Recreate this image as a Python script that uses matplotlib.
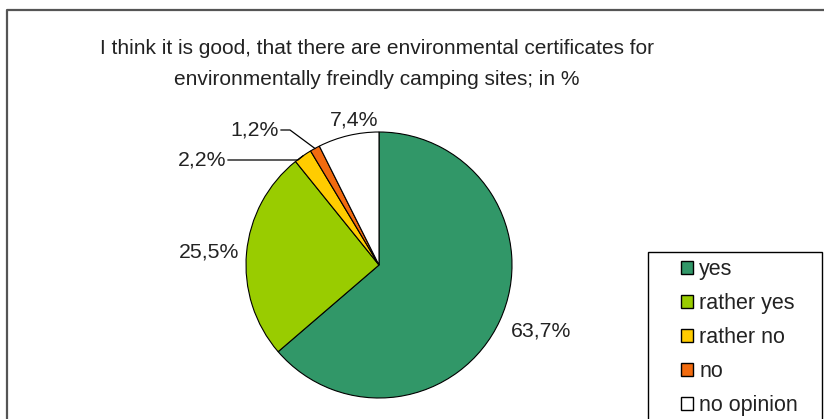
import numpy as np
import matplotlib
matplotlib.use("Agg")
import matplotlib.pyplot as plt
from matplotlib.patches import Patch, Rectangle
from matplotlib.lines import Line2D

# survey answers, in %
categories = ["yes", "rather yes", "rather no", "no", "no opinion"]
shares = [63.7, 25.5, 2.2, 1.2, 7.4]
colors = ["#319768", "#99cc00", "#ffcc00", "#f26b0f", "#ffffff"]
title = ("I think it is good, that there are environmental certificates for\n"
         "environmentally freindly camping sites; in %")

W, H = 824, 419
plt.rcParams["font.family"] = ["Liberation Sans", "DejaVu Sans"]

fig = plt.figure(figsize=(W / 100, H / 100), dpi=100)
fig.patch.set_facecolor("white")

# pie centre and radius in pixels
cx, cy, r = 379, 265, 133


def px(x, y):
    # pixel position -> pie data coordinates
    return (x - cx) / r, (cy - y) / r


ax = fig.add_axes([(cx - r) / W, (H - cy - r) / H, 2 * r / W, 2 * r / H])
wedges, _ = ax.pie(shares, colors=colors, startangle=90, counterclock=False,
                   radius=1, wedgeprops=dict(edgecolor="black", linewidth=0.8))
ax.set_xlim(-1, 1)
ax.set_ylim(-1, 1)
ax.set_aspect("auto")
ax.axis("off")


def fmt(v):
    return f"{v:.1f}%".replace(".", ",")


# label centres (pixels) and optional leader elbow
label_pos = [(541, 331), (209, 252), (202, 160), (255, 130), (354, 120)]
elbows = [None, None, (298, 160), (290, 130), None]
text_ends = [None, None, (228, 160), (281, 130), None]

for w, v, (lx, ly), elb, te in zip(wedges, shares, label_pos, elbows, text_ends):
    x, y = px(lx, ly)
    ax.text(x, y, fmt(v), ha="center", va="center", fontsize=15.3,
            color="#222222", clip_on=False)
    if elb is not None:
        mid = np.deg2rad((w.theta1 + w.theta2) / 2)
        ex, ey = px(*elb)
        tx, ty = px(*te)
        ax.plot([np.cos(mid), ex, tx], [np.sin(mid), ey, ty], color="black",
                lw=0.9, clip_on=False)

fig.text(377 / W, 1 - 64 / H, title, ha="center", va="center", fontsize=15,
         color="#222222", linespacing=1.77)

# outer chart frame
fig.add_artist(Line2D([7 / W, 7 / W, 1.01], [-0.01, 1 - 10 / H, 1 - 10 / H],
                      transform=fig.transFigure, color="#555555", lw=1.6))

# legend box
fig.add_artist(Rectangle((648 / W, -0.05), (822 - 648) / W, (H - 252) / H + 0.05,
                         transform=fig.transFigure, fill=False,
                         edgecolor="black", lw=1.0))
handles = [Patch(facecolor=c, edgecolor="black", linewidth=1.0) for c in colors]
fig.legend(handles, categories, loc="upper left",
           bbox_to_anchor=(681 / W, 1 - 259 / H), frameon=False, fontsize=15.5,
           handlelength=0.55, handleheight=0.55, handletextpad=0.3,
           labelspacing=0.6, borderaxespad=0, borderpad=0,
           labelcolor="#222222")

fig.savefig("out.png", dpi=100)
